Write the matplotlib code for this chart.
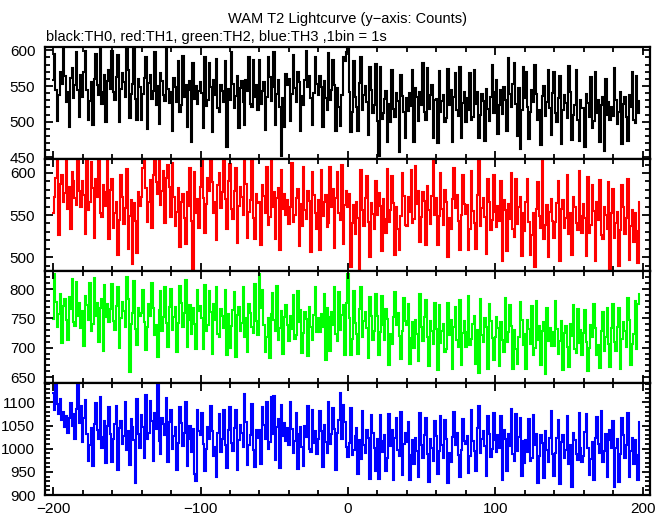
"""WAM T2 lightcurve, four energy channels stacked."""

import numpy as np
import matplotlib.pyplot as plt
from matplotlib.ticker import MultipleLocator

# counts per 1 s bin, starting at t = -200 s
th0 = [
    558, 595, 545, 501, 538, 569, 553, 604, 564, 528, 541, 492, 561, 575, 533, 552, 598, 544, 506, 565,
    534, 569, 599, 545, 502, 529, 555, 495, 560, 595, 552, 538, 604, 525, 541, 565, 500, 557, 572, 546,
    599, 542, 530, 563, 594, 499, 546, 568, 556, 535, 612, 572, 505, 539, 553, 608, 532, 503, 560, 549,
    502, 539, 561, 591, 490, 554, 565, 532, 543, 597, 524, 550, 497, 568, 557, 537, 529, 602, 546, 526,
    541, 487, 561, 548, 528, 585, 513, 523, 592, 534, 552, 493, 545, 557, 472, 582, 532, 550, 525, 543,
    556, 540, 491, 591, 522, 531, 582, 548, 486, 559, 537, 588, 519, 514, 552, 543, 527, 585, 465, 546,
    530, 597, 553, 519, 536, 564, 491, 547, 557, 528, 495, 559, 543, 591, 525, 520, 586, 534, 551, 517,
    586, 525, 543, 556, 489, 534, 591, 562, 529, 548, 598, 496, 539, 558, 520, 452, 533, 492, 567, 551,
    560, 501, 539, 593, 547, 528, 570, 556, 487, 536, 523, 559, 599, 548, 564, 533, 496, 540, 590, 553,
    538, 564, 549, 492, 557, 533, 517, 596, 530, 544, 587, 552, 487, 547, 521, 494, 537, 591, 585, 598,
    608, 542, 485, 514, 585, 535, 521, 487, 554, 590, 517, 538, 550, 528, 481, 576, 545, 512, 524, 581,
    501, 452, 577, 504, 512, 532, 543, 472, 525, 499, 572, 518, 507, 540, 529, 458, 566, 536, 514, 477,
    533, 515, 540, 522, 572, 471, 547, 535, 501, 542, 524, 582, 513, 503, 575, 518, 538, 551, 477, 531,
    532, 470, 571, 513, 529, 538, 500, 505, 574, 523, 545, 472, 534, 568, 517, 508, 577, 477, 526, 542,
    499, 533, 516, 568, 502, 507, 573, 525, 541, 477, 510, 539, 529, 473, 546, 518, 501, 535, 579, 512,
    542, 558, 483, 524, 545, 511, 549, 530, 487, 589, 539, 520, 553, 582, 525, 480, 547, 462, 516, 577,
    533, 570, 520, 476, 513, 544, 528, 579, 539, 503, 516, 467, 536, 550, 508, 527, 573, 519, 481, 540,
    569, 512, 500, 533, 564, 469, 516, 538, 526, 505, 578, 542, 475, 509, 523, 573, 502, 473, 530, 519,
    519, 465, 539, 526, 506, 563, 491, 501, 570, 512, 530, 471, 523, 535, 459, 560, 510, 528, 503, 521,
    508, 575, 531, 497, 514, 542, 469, 525, 535, 506, 473, 537, 521, 569, 503, 498, 564, 512, 529,
]

th1 = [
    553, 572, 594, 621, 526, 587, 598, 565, 576, 627, 557, 583, 533, 601, 590, 570, 562, 632, 579, 559,
    590, 574, 528, 622, 556, 565, 613, 582, 523, 593, 571, 619, 553, 548, 586, 577, 561, 616, 521, 580,
    593, 535, 553, 566, 502, 544, 598, 572, 539, 558, 605, 510, 549, 568, 492, 564, 543, 505, 577, 561,
    571, 606, 633, 582, 542, 566, 592, 535, 597, 629, 589, 575, 638, 562, 578, 602, 540, 594, 609, 583,
    548, 612, 571, 537, 554, 582, 512, 565, 575, 546, 516, 577, 561, 606, 543, 484, 601, 552, 569, 535,
    583, 617, 570, 529, 563, 594, 578, 626, 589, 553, 566, 520, 586, 600, 558, 577, 620, 569, 534, 590,
    611, 557, 545, 578, 606, 517, 561, 583, 571, 550, 620, 587, 523, 554, 568, 615, 547, 521, 575, 564,
    566, 515, 586, 573, 553, 607, 538, 548, 614, 559, 577, 521, 570, 582, 509, 604, 557, 575, 550, 568,
    539, 559, 612, 542, 550, 570, 581, 513, 563, 537, 607, 556, 545, 578, 567, 506, 601, 574, 552, 533,
    568, 509, 604, 549, 565, 574, 536, 541, 607, 559, 581, 511, 570, 601, 553, 544, 610, 516, 562, 578,
    559, 575, 488, 541, 562, 528, 566, 547, 485, 603, 556, 537, 570, 596, 542, 500, 564, 551, 533, 591,
    550, 576, 561, 507, 569, 545, 529, 605, 542, 556, 596, 564, 502, 559, 533, 509, 549, 600, 573, 538,
    537, 571, 554, 603, 540, 545, 608, 563, 579, 518, 548, 577, 567, 514, 584, 556, 539, 573, 614, 550,
    570, 514, 549, 600, 557, 538, 580, 566, 500, 546, 533, 569, 606, 558, 574, 543, 509, 550, 597, 563,
    551, 562, 508, 534, 602, 555, 541, 510, 574, 614, 537, 558, 570, 548, 504, 593, 565, 532, 544, 598,
    554, 536, 561, 543, 590, 495, 568, 556, 507, 563, 545, 600, 534, 524, 593, 539, 559, 572, 501, 552,
    531, 566, 593, 542, 502, 526, 552, 488, 557, 589, 549, 535, 615, 522, 538, 562, 500, 554, 569, 543,
    523, 542, 564, 591, 496, 557, 568, 535, 546, 597, 527, 553, 503, 571, 560, 540, 532, 602, 549, 529,
    563, 547, 501, 595, 529, 538, 586, 555, 496, 566, 544, 592, 526, 521, 559, 550, 534, 589, 486, 553,
    581, 523, 541, 554, 490, 532, 586, 560, 527, 546, 593, 497, 537, 556, 518, 552, 531, 493, 565,
]

th2 = [
    749, 826, 778, 736, 757, 792, 708, 771, 783, 747, 713, 786, 766, 818, 743, 737, 812, 754, 776, 733,
    763, 703, 788, 772, 747, 811, 728, 740, 819, 754, 777, 710, 768, 783, 695, 807, 752, 774, 743, 766,
    809, 745, 730, 771, 803, 699, 750, 778, 763, 736, 820, 783, 658, 741, 759, 814, 732, 704, 768, 754,
    760, 799, 744, 696, 735, 774, 754, 810, 768, 722, 739, 685, 764, 796, 729, 753, 803, 742, 702, 769,
    800, 731, 753, 770, 693, 742, 806, 777, 736, 760, 815, 702, 748, 772, 724, 767, 741, 697, 798, 763,
    771, 751, 697, 807, 728, 739, 796, 761, 690, 774, 747, 803, 724, 718, 766, 754, 734, 799, 688, 758,
    699, 737, 765, 795, 684, 756, 770, 729, 742, 803, 719, 751, 692, 774, 760, 735, 725, 809, 746, 721,
    826, 768, 798, 738, 692, 718, 751, 683, 757, 793, 747, 729, 805, 713, 733, 763, 689, 753, 772, 739,
    711, 754, 732, 790, 715, 721, 796, 744, 764, 691, 725, 761, 749, 686, 770, 735, 714, 756, 804, 727,
    750, 727, 758, 736, 791, 679, 767, 752, 694, 761, 738, 803, 724, 712, 795, 731, 756, 772, 687, 776,
    825, 751, 687, 715, 797, 742, 724, 689, 766, 803, 719, 746, 761, 733, 682, 786, 754, 713, 728, 792,
    754, 687, 727, 788, 738, 714, 766, 749, 670, 724, 707, 753, 795, 739, 759, 720, 681, 729, 784, 745,
    739, 774, 673, 717, 743, 700, 748, 724, 678, 791, 736, 712, 753, 782, 718, 669, 746, 729, 707, 776,
    732, 662, 773, 708, 728, 740, 692, 698, 777, 721, 748, 664, 735, 770, 713, 702, 781, 671, 725, 745,
    701, 726, 789, 705, 715, 740, 754, 672, 731, 657, 783, 722, 709, 750, 736, 664, 775, 745, 717, 679,
    719, 752, 733, 669, 743, 713, 693, 785, 709, 727, 773, 737, 663, 731, 698, 672, 718, 778, 748, 704,
    723, 663, 748, 732, 707, 771, 688, 700, 779, 714, 737, 670, 728, 743, 655, 767, 712, 734, 703, 726,
    703, 780, 732, 690, 711, 746, 662, 725, 737, 701, 667, 740, 720, 772, 697, 691, 766, 708, 730, 687,
    725, 764, 709, 661, 700, 739, 719, 775, 733, 687, 704, 665, 729, 761, 694, 718, 768, 707, 667, 734,
    774, 710, 695, 736, 768, 664, 715, 743, 728, 701, 785, 748, 671, 706, 724, 779, 697, 774, 792,
]

th3 = [
    1120, 1084, 1138, 1097, 1075, 1108, 1062, 1080, 1046, 1070, 1034, 1066, 1098, 1050, 1074, 1020, 1085, 1143, 1056, 1092,
    1014, 1067, 1105, 1031, 973, 1007, 1045, 963, 1053, 1099, 1041, 1020, 1112, 1001, 1025, 1061, 970, 1049, 1091, 1032,
    972, 1021, 1054, 1092, 954, 1044, 1060, 1010, 1027, 1101, 998, 1038, 965, 1064, 1048, 1018, 926, 1108, 1032, 1002,
    1072, 1048, 981, 1117, 1021, 1035, 1104, 1060, 974, 1077, 1043, 1138, 1017, 989, 1066, 1053, 1029, 1109, 971, 1057,
    1084, 999, 1027, 1046, 953, 1013, 1091, 1055, 1005, 1034, 1102, 963, 1021, 1049, 992, 1043, 945, 931, 1083, 1039,
    1030, 1078, 1010, 952, 1000, 1046, 1022, 1092, 1039, 985, 1004, 938, 1034, 1076, 992, 1021, 1083, 1009, 959, 1040,
    1091, 1013, 995, 1045, 1084, 955, 1019, 1052, 1034, 1003, 1118, 1058, 965, 1009, 1029, 1097, 998, 961, 1040, 1023,
    1041, 967, 1091, 1051, 1021, 1100, 999, 1014, 1111, 1031, 1115, 976, 1047, 1065, 958, 1095, 1027, 1055, 1017, 1044,
    1007, 1100, 1042, 990, 1016, 1078, 956, 1032, 1048, 1004, 962, 1050, 1026, 1092, 1000, 992, 1084, 1013, 1038, 988,
    1022, 1081, 1039, 960, 1051, 1015, 991, 1102, 1010, 1031, 1089, 1043, 953, 1035, 1062, 1120, 1021, 1095, 1057, 1004,
    982, 1012, 1088, 986, 998, 1028, 1044, 945, 1018, 978, 1081, 1007, 990, 1040, 1024, 934, 1072, 1034, 1001, 952,
    1020, 934, 1072, 992, 1016, 1029, 952, 980, 1076, 1006, 1040, 932, 1023, 1067, 998, 984, 1080, 944, 1011, 1035,
    1014, 1058, 932, 986, 1018, 967, 1024, 996, 938, 1077, 1009, 980, 1030, 1066, 988, 928, 1021, 1002, 974, 1059,
    1027, 946, 996, 1070, 1008, 979, 1063, 1021, 925, 991, 972, 1026, 1079, 1009, 1033, 987, 939, 997, 1065, 1017,
    1010, 1027, 948, 985, 1084, 1016, 996, 952, 1045, 1092, 990, 1021, 1039, 1006, 942, 1071, 1032, 982, 1000, 1078,
    1019, 992, 1030, 1002, 1070, 933, 1040, 1022, 951, 1032, 1006, 1086, 989, 974, 1075, 996, 1026, 1066, 942, 1016,
    969, 1019, 994, 1065, 973, 981, 1073, 1007, 1031, 925, 985, 1029, 1013, 937, 1039, 997, 971, 1023, 1081, 988,
    942, 991, 1024, 1062, 924, 1014, 1030, 980, 997, 1071, 968, 1008, 918, 1034, 1018, 988, 976, 1078, 1002, 972,
    984, 1037, 1075, 1001, 943, 977, 1015, 933, 1023, 1069, 1011, 990, 1082, 971, 995, 1031, 940, 1019, 1041, 1002,
    1059, 918, 1002, 1021, 928, 988, 1066, 1030, 980, 1009, 1077, 938, 996, 1024, 967, 1018, 986, 932, 1058,
]

t_start = -200
series = [th0, th1, th2, th3]
colors = ["black", "red", "#00ff00", "blue"]
y_limits = [(447, 604), (483, 616), (639, 830), (899, 1141)]

plt.rcParams["font.family"] = ["Liberation Sans", "DejaVu Sans"]

fig, axes = plt.subplots(4, 1, sharex=True, figsize=(6.69, 5.15), dpi=100)
fig.subplots_adjust(left=0.0673, right=0.9716, top=0.9078, bottom=0.0379, hspace=0)

for ax, counts, color, ylim in zip(axes, series, colors, y_limits):
    edges = np.arange(len(counts) + 1) + t_start - 0.5
    ax.stairs(counts, edges, baseline=None, color=color, lw=1.5)
    ax.set_xlim(-205.5, 205)
    ax.set_ylim(*ylim)
    ax.xaxis.set_major_locator(MultipleLocator(100))
    ax.xaxis.set_minor_locator(MultipleLocator(20))
    ax.yaxis.set_major_locator(MultipleLocator(50))
    ax.yaxis.set_minor_locator(MultipleLocator(10))
    ax.tick_params(which="both", direction="in", top=True, right=True,
                   labelsize=11, width=1.3)
    ax.tick_params(which="major", length=6)
    ax.tick_params(which="minor", length=3.5)
    ax.tick_params(axis="y", pad=7)
    ax.tick_params(axis="x", pad=5)
    for spine in ax.spines.values():
        spine.set_linewidth(1.6)

fig.text(347.5 / 669, 1 - 22.5 / 515, "WAM T2 Lightcurve (y\u2212axis: Counts)",
         ha="center", va="baseline", fontsize=10.5)
fig.text(46 / 669, 1 - 41.5 / 515,
         "black:TH0, red:TH1, green:TH2, blue:TH3 ,1bin = 1s",
         ha="left", va="baseline", fontsize=10.5)

fig.savefig("out.png", dpi=100)
